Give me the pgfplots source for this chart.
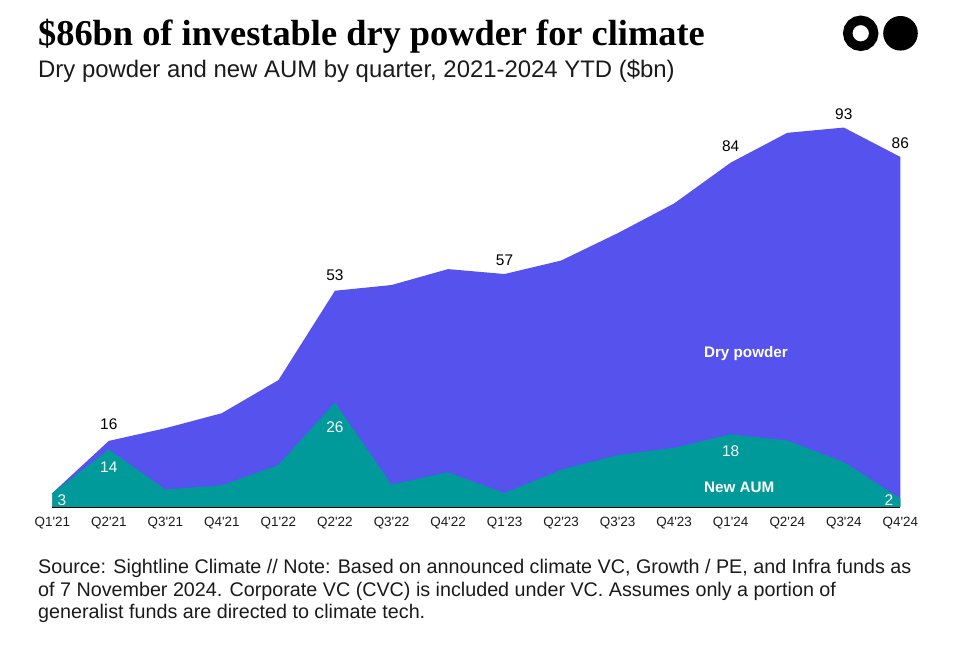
\documentclass[border=0pt]{standalone}
\usepackage{pgfplots}
\pgfplotsset{compat=1.18}
\usepackage{fontspec}
\setmainfont{Liberation Sans}
\newfontfamily\titlefont{Liberation Serif}
\definecolor{drypowder}{HTML}{5552EE}
\definecolor{newaum}{HTML}{009A9B}
\definecolor{ink}{HTML}{1A1A1A}
\newcommand{\q}{\textquotesingle}

\begin{document}
\begin{tikzpicture}[x=1bp,y=1bp]
\path[use as bounding box] (0,0) rectangle (976,646);

% title, subtitle
\node[anchor=base west, inner sep=0, font=\titlefont\bfseries\fontsize{36.5}{40}\selectfont] at (38,600)
  {\$86bn of investable dry powder for climate};
\node[anchor=base west, inner sep=0, text=ink, font=\fontsize{24}{28}\selectfont] at (38,568)
  {Dry powder and new AUM by quarter, 2021-2024 YTD (\$bn)};

% logo
\draw[line width=9.4bp] (860.7bp,612.7bp) circle (13bp);
\fill (900.5bp,612.7bp) circle (17.3bp);

\begin{axis}[
    at={(52.3bp,139bp)}, anchor=south west,
    scale only axis,
    width=848bp, height=408bp,
    xmin=0, xmax=15, ymin=0, ymax=100,
    axis x line=bottom,
    axis y line=none,
    axis line style={-, black, line width=1.3bp},
    xtick={0,...,15},
    xticklabels={Q1\q21,Q2\q21,Q3\q21,Q4\q21,Q1\q22,Q2\q22,Q3\q22,Q4\q22,
                 Q1\q23,Q2\q23,Q3\q23,Q4\q23,Q1\q24,Q2\q24,Q3\q24,Q4\q24},
    major tick length=0pt,
    x tick label style={font=\fontsize{13.5}{15}\selectfont, text=ink, yshift=-7bp},
    clip=false,
]
% dry powder
\addplot[fill=drypowder, draw=none] coordinates {
    (0,3.4) (1,16.2) (2,19.3) (3,23.0) (4,31.1) (5,53.0) (6,54.4) (7,58.3)
    (8,57.1) (9,60.4) (10,67.1) (11,74.4) (12,84.4) (13,91.7) (14,93.0) (15,85.8)
} \closedcycle;
% new AUM
\addplot[fill=newaum, draw=none] coordinates {
    (0,3.4) (1,14.1) (2,4.3) (3,5.3) (4,10.3) (5,25.6) (6,5.5) (7,8.5)
    (8,3.4) (9,9.1) (10,12.7) (11,14.5) (12,17.8) (13,16.3) (14,11.0) (15,2.1)
} \closedcycle;

% value labels
\begin{scope}[every node/.style={font=\fontsize{15.5}{17}\selectfont, inner sep=0}]
\node[text=black] at (axis cs:1,20.4) {16};
\node[text=black] at (axis cs:5,56.8) {53};
\node[text=black] at (axis cs:8,60.5) {57};
\node[text=black] at (axis cs:12,88.5) {84};
\node[text=black] at (axis cs:14,96.3) {93};
\node[text=black] at (axis cs:15,89.2) {86};
\node[text=white] at (axis cs:1,9.8) {14};
\node[text=white] at (axis cs:5,19.6) {26};
\node[text=white] at (axis cs:12,13.7) {18};
\node[text=white] at (axis cs:0.17,1.7) {3};
\node[text=white] at (axis cs:14.8,1.7) {2};
\end{scope}
\node[text=white, font=\bfseries\fontsize{15.3}{17}\selectfont] at (axis cs:12.27,37.7) {Dry powder};
\node[text=white, font=\bfseries\fontsize{15.3}{17}\selectfont] at (axis cs:12.15,4.7) {New AUM};
\end{axis}

% footnote
\begin{scope}[every node/.style={anchor=base west, inner sep=0, text=ink, font=\fontsize{19.8}{22}\selectfont}]
\node at (38,72.7) {Source: Sightline Climate // Note: Based on announced climate VC, Growth / PE, and Infra funds as};
\node at (38,49.3) {of 7 November 2024. Corporate VC (CVC) is included under VC. Assumes only a portion of};
\node at (38,27) {generalist funds are directed to climate tech.};
\end{scope}
\end{tikzpicture}
\end{document}
